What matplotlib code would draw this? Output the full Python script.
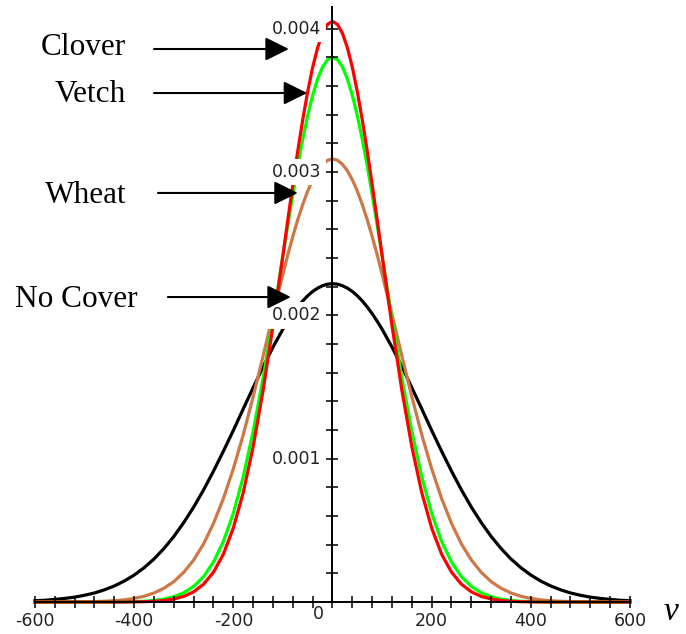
import numpy as np
import matplotlib
matplotlib.use("Agg")
import matplotlib.pyplot as plt

# velocity grid: every 20 units in the tails, every 10 units around the peak
v = np.concatenate([np.arange(-600, -100, 20), np.arange(-100, 101, 10), np.arange(120, 601, 20)])

# densities, in units of 1e-6
clover = [0, 0, 0, 0, 0, 0, 0, 0, 0, 0,
          1, 2, 5, 10, 21, 39, 71, 124, 208, 334,
          516, 763, 1083, 1475, 1928,
          2419, 2668, 2912, 3147, 3364, 3560, 3729, 3866, 3967, 4029,
          4050,
          4029, 3967, 3866, 3729, 3560, 3364, 3147, 2912, 2668, 2419,
          1928, 1475, 1083, 763, 516,
          334, 208, 124, 71, 39, 21, 10, 5, 2, 1,
          0, 0, 0, 0, 0, 0, 0, 0, 0, 0]

vetch = [0, 0, 0, 0, 0, 0, 0, 0, 0, 1,
         3, 5, 11, 20, 37, 64, 109, 177, 279, 423,
         619, 874, 1190, 1562, 1978,
         2415, 2632, 2843, 3043, 3227, 3393, 3534, 3648, 3732, 3783,
         3800,
         3783, 3732, 3648, 3534, 3393, 3227, 3043, 2843, 2632, 2415,
         1978, 1562, 1190, 874, 619,
         423, 279, 177, 109, 64, 37, 20, 11, 5, 3,
         1, 0, 0, 0, 0, 0, 0, 0, 0, 0]

wheat = [0, 0, 0, 0, 1, 2, 3, 5, 9, 15,
         25, 40, 63, 96, 142, 207, 293, 405, 548, 722,
         929, 1167, 1432, 1715, 2005,
         2288, 2423, 2550, 2667, 2773, 2866, 2945, 3008, 3053, 3081,
         3090,
         3081, 3053, 3008, 2945, 2866, 2773, 2667, 2550, 2423, 2288,
         2005, 1715, 1432, 1167, 929,
         722, 548, 405, 293, 207, 142, 96, 63, 40, 25,
         15, 9, 5, 3, 2, 1, 0, 0, 0, 0]

no_cover = [9, 12, 18, 25, 34, 47, 63, 85, 112, 146,
            188, 239, 300, 373, 457, 554, 662, 782, 913, 1052,
            1197, 1347, 1495, 1641, 1778,
            1903, 1959, 2011, 2058, 2100, 2136, 2166, 2189, 2206, 2217,
            2220,
            2217, 2206, 2189, 2166, 2136, 2100, 2058, 2011, 1959, 1903,
            1778, 1641, 1495, 1347, 1197,
            1052, 913, 782, 662, 554, 457, 373, 300, 239, 188,
            146, 112, 85, 63, 47, 34, 25, 18, 12, 9]

names = ["No Cover", "Wheat", "Vetch", "Clover"]
colors = ["black", "#cd7846", "#00ff00", "#ff0000"]

x_major = [-600, -400, -200, 200, 400, 600]
x_labels = ["-600", "-400", "-200", "200", "400", "600"]
y_major = [0.001, 0.002, 0.003, 0.004]
y_labels = ["0.001", "0.002", "0.003", "0.004"]

# label text anchor (right, baseline) and arrow tail/tip, in data units
label_pos = {"Clover": (-416, 0.003815), "Vetch": (-416, 0.003487),
             "Wheat": (-416, 0.002783), "No Cover": (-394, 0.002058)}
arrow_pos = {"Clover": ((-360, 0.003857), (-88, 0.003857)),
             "Vetch": ((-360, 0.003550), (-51, 0.003550)),
             "Wheat": ((-352, 0.002853), (-70, 0.002853)),
             "No Cover": ((-332, 0.002127), (-84, 0.002127))}

fig = plt.figure(figsize=(6.86, 6.34), dpi=100)
ax = fig.add_axes([35 / 686, 32 / 634, 595 / 686, 595 / 634])
ax.set_xlim(-600, 600)
ax.set_ylim(0, 0.00415)

series = [no_cover, wheat, vetch, clover]
for vals, c in zip(series, colors):
    ax.plot(v, np.array(vals) * 1e-6, color=c, lw=2.3, zorder=2, clip_on=False)

for s in ["top", "right"]:
    ax.spines[s].set_visible(False)
ax.spines["left"].set_position(("data", 0))
ax.spines["bottom"].set_position(("data", 0))
for s in ["left", "bottom"]:
    ax.spines[s].set_linewidth(1.4)
    ax.spines[s].set_zorder(4)
ax.xaxis.set_zorder(4)
ax.yaxis.set_zorder(4)

ax.set_xticks(x_major)
ax.set_xticklabels(x_labels, fontsize=12.5, family="DejaVu Sans", color="#222222")
ax.set_xticks(np.arange(-600, 601, 40), minor=True)
ax.set_yticks(np.arange(0, 0.00401, 0.0002))
ax.set_yticklabels([])
ax.tick_params(axis="both", which="both", direction="inout", length=8, width=1.1)
ax.tick_params(axis="x", pad=3)

for yv, lab in zip(y_major, y_labels):
    ax.text(-22, yv, lab, ha="right", va="center", fontsize=12.5,
            family="DejaVu Sans", color="#222222", zorder=3,
            bbox=dict(boxstyle="square,pad=0.25", fc="white", ec="none"))
ax.text(-29, -0.000084, "0", ha="center", va="center", fontsize=12.5,
        family="DejaVu Sans", color="#222222", clip_on=False)

ax.text(683, -0.000125, "v", fontsize=24, family="Liberation Serif",
        style="italic", ha="center", va="baseline", clip_on=False)

for name in names:
    tx, ty = label_pos[name]
    ax.text(tx, ty, name, ha="right", va="baseline", fontsize=22.5,
            family="Liberation Serif")
    tail, tip = arrow_pos[name]
    ax.annotate("", xy=tip, xytext=tail,
                arrowprops=dict(arrowstyle="-|>,head_length=1.45,head_width=0.72",
                                mutation_scale=10, lw=1.5, color="black",
                                shrinkA=0, shrinkB=0), zorder=5)

fig.savefig("out.png", dpi=100)
